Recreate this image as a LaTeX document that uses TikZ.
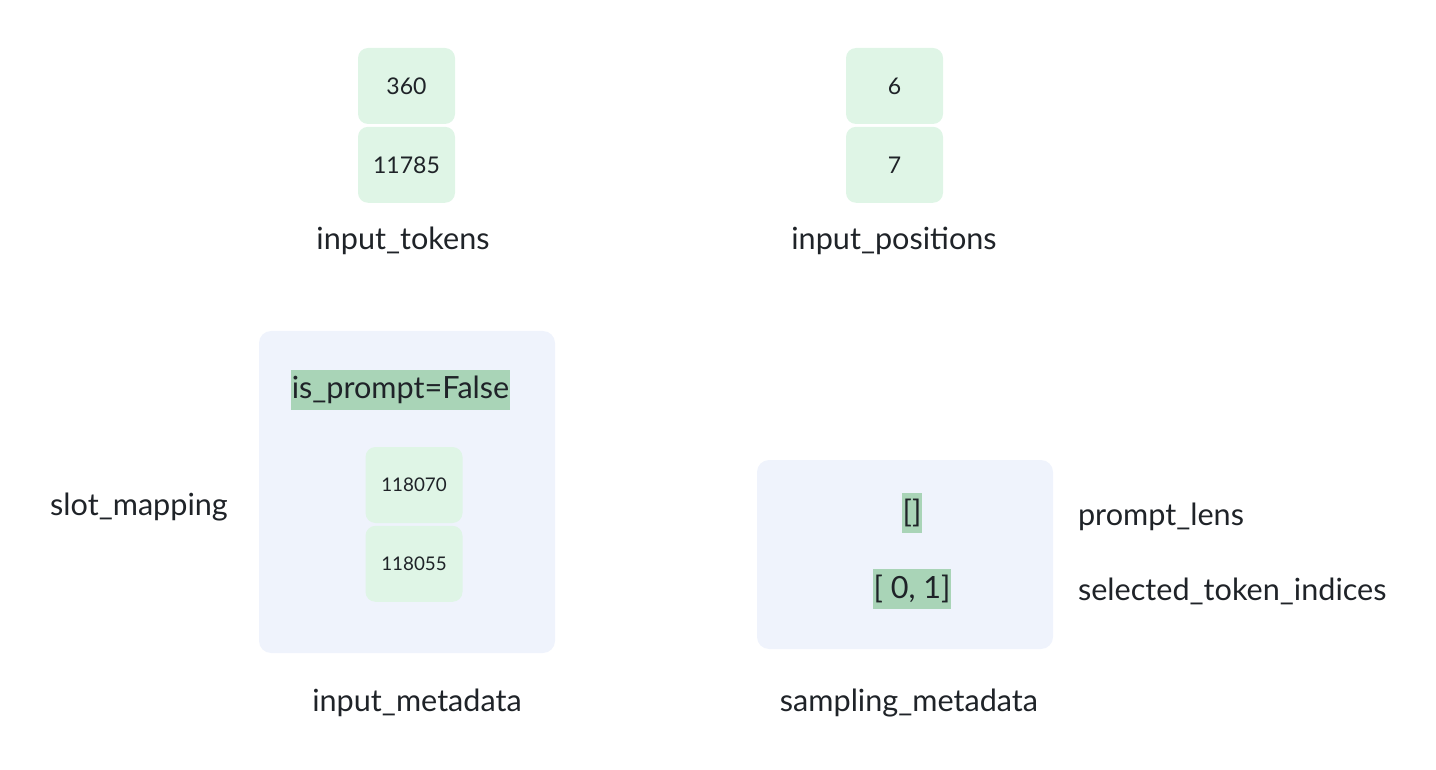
\documentclass[tikz,border=0pt]{standalone}
\usepackage{fontspec}
\setmainfont{Lato}
\usetikzlibrary{positioning}
\definecolor{cellgreen}{RGB}{223,245,230}
\definecolor{boxblue}{RGB}{239,243,252}
\definecolor{markgreen}{RGB}{169,212,183}
\definecolor{inkgray}{RGB}{31,35,40}

\begin{document}
\begin{tikzpicture}[x=0.5pt,y=-0.5pt,text=inkgray,node distance=1pt,
    cell/.style={fill=cellgreen,rounded corners=5pt,minimum width=48.5pt,minimum height=38pt,inner sep=0pt,font=\fontsize{11.5}{13}\selectfont},
    smallcell/.style={cell,font=\fontsize{9.4}{11}\selectfont},
    group/.style={fill=boxblue,rounded corners=6pt,inner sep=0pt},
    hilite/.style={fill=markgreen,inner xsep=0.3pt,inner ysep=0pt,minimum height=20pt,font=\fontsize{15.3}{17}\selectfont},
    caption/.style={font=\fontsize{15.3}{18}\selectfont}]
    \useasboundingbox (0,0) rectangle (1436,770);
    % token and position columns
    \node[cell] (tok1) at (406.5,86) {360};
    \node[cell,below=of tok1] (tok2) {11785};
    \node[caption] (tokcap) at (403,241) {input\_tokens};
    \node[cell] (pos1) at (894.5,86) {6};
    \node[cell,below=of pos1] (pos2) {7};
    \node[caption] (poscap) at (894,241) {input\_positions};
    % input metadata
    \node[group,minimum width=148pt,minimum height=161pt] (imeta) at (407,492) {};
    \node[hilite] (prompt) at (400.5,390) {is\_prompt=False};
    \node[smallcell] (slot1) at (414,485) {118070};
    \node[smallcell,below=of slot1] (slot2) {118055};
    \node[caption] (slotcap) at (139,507) {slot\_mapping};
    \node[caption] (imetacap) at (417,703) {input\_metadata};
    % sampling metadata
    \node[group,minimum width=148pt,minimum height=94.5pt] (smeta) at (905,554.5) {};
    \node[hilite] (lens) at (912,513) {[]};
    \node[hilite] (sel) at (912,588.5) {[ 0, 1]};
    \node[caption,anchor=west] (lenscap) at (1071,517) {prompt\_lens};
    \node[caption,anchor=west] (selcap) at (1071,591) {selected\_token\_indices};
    \node[caption] (smetacap) at (909,703) {sampling\_metadata};
\end{tikzpicture}
\end{document}
